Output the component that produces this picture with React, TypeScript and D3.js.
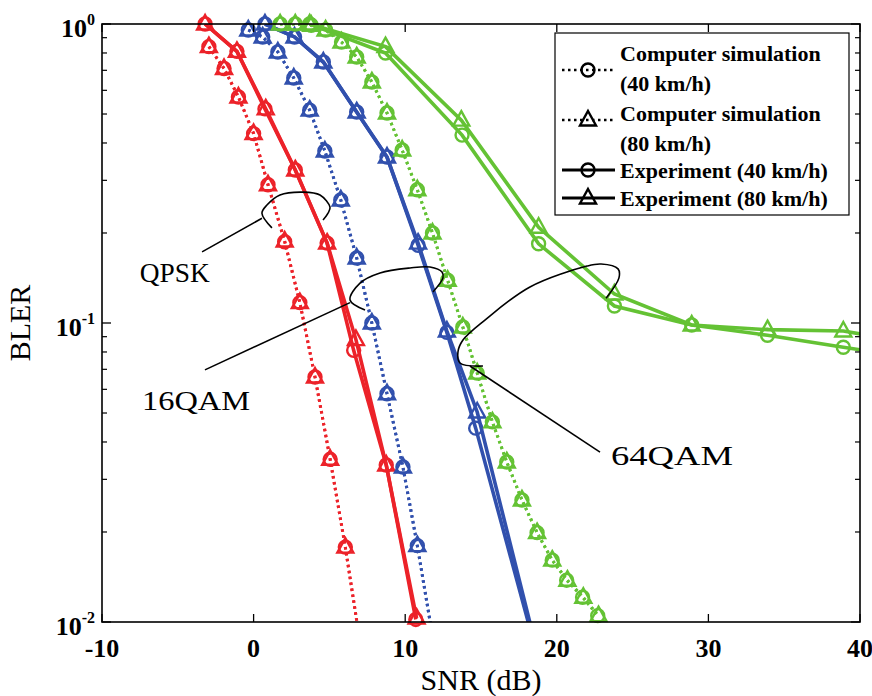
import React, { useEffect, useRef } from 'react';
import * as d3 from 'd3';

// axes
const xTicks = [-10, 0, 10, 20, 30, 40];
const yTicks = [1e-2, 1e-1, 1];
const yTickExp = ['-2', '-1', '0'];

// QPSK (red)
const qpskSim40 = [[-2.95, 0.84], [-1.95, 0.71], [-1.0, 0.57], [0.0, 0.43], [0.95, 0.29], [2.05, 0.187], [3.05, 0.117], [4.05, 0.066], [5.05, 0.035], [6.05, 0.0178], [7.0, 0.0087]];
const qpskSim80 = [[-2.95, 0.84], [-1.95, 0.71], [-1.0, 0.57], [0.0, 0.43], [0.95, 0.29], [2.05, 0.188], [3.05, 0.117], [4.05, 0.066], [5.05, 0.035], [6.05, 0.0178], [7.0, 0.0087]];
const qpskExp40 = [[-3.2, 1.0], [-1.1, 0.81], [0.75, 0.52], [2.75, 0.325], [4.85, 0.185], [6.6, 0.081], [8.75, 0.0335], [10.7, 0.0102]];
const qpskExp80 = [[-3.2, 1.0], [-1.1, 0.81], [0.8, 0.52], [2.75, 0.325], [4.85, 0.185], [6.75, 0.088], [8.75, 0.0335], [10.75, 0.0103]];

// 16QAM (blue)
const qam16Sim40 = [[-0.35, 0.955], [0.6, 0.905], [1.6, 0.806], [2.65, 0.66], [3.7, 0.515], [4.7, 0.376], [5.75, 0.258], [6.8, 0.165], [7.8, 0.1], [8.8, 0.058], [9.85, 0.033], [10.8, 0.018], [11.8, 0.009]];
const qam16Sim80 = [[-0.35, 0.955], [0.6, 0.905], [1.6, 0.806], [2.65, 0.66], [3.7, 0.515], [4.7, 0.376], [5.75, 0.258], [6.8, 0.165], [7.8, 0.1], [8.8, 0.058], [9.85, 0.033], [10.8, 0.018], [11.8, 0.009]];
const qam16Exp40 = [[0.75, 1.0], [2.7, 0.905], [4.6, 0.746], [6.8, 0.508], [8.8, 0.359], [10.85, 0.182], [12.75, 0.093], [14.65, 0.0445], [18.75, 0.0076]];
const qam16Exp80 = [[0.75, 1.0], [2.7, 0.905], [4.6, 0.746], [6.8, 0.508], [8.8, 0.359], [10.85, 0.185], [12.75, 0.094], [14.75, 0.0504], [18.75, 0.0078]];

// 64QAM (green)
const qam64Sim40 = [[1.75, 1.0], [2.75, 1.0], [3.8, 0.99], [4.75, 0.955], [5.8, 0.87], [6.8, 0.776], [7.8, 0.64], [8.8, 0.504], [9.8, 0.379], [10.8, 0.279], [11.8, 0.2], [12.8, 0.139], [13.8, 0.097], [14.75, 0.068], [15.75, 0.0467], [16.7, 0.0343], [17.7, 0.0256], [18.7, 0.0199], [19.7, 0.0161], [20.65, 0.0138], [21.7, 0.0121], [22.7, 0.0105]];
const qam64Sim80 = [[1.75, 1.0], [2.75, 1.0], [3.8, 0.99], [4.75, 0.955], [5.8, 0.87], [6.8, 0.776], [7.8, 0.64], [8.8, 0.504], [9.8, 0.379], [10.8, 0.279], [11.8, 0.2], [12.8, 0.139], [13.8, 0.097], [14.75, 0.068], [15.75, 0.0467], [16.7, 0.0343], [17.7, 0.0256], [18.7, 0.0199], [19.7, 0.0161], [20.7, 0.0138], [21.75, 0.0121], [22.75, 0.0105]];
const qam64Exp40 = [[3.7, 1.0], [8.7, 0.8], [13.75, 0.425], [18.8, 0.184], [23.8, 0.114], [28.9, 0.0985], [33.9, 0.091], [38.9, 0.083], [43.9, 0.076]];
const qam64Exp80 = [[3.7, 1.0], [8.7, 0.84], [13.7, 0.477], [18.8, 0.209], [23.8, 0.125], [28.9, 0.0985], [33.9, 0.095], [38.9, 0.094], [43.9, 0.085]];

// annotations (data coordinates)
const qpskArc = [[1.21, 0.208], [0.55, 0.233], [0.88, 0.248], [1.74, 0.268], [3.26, 0.274], [4.38, 0.268], [5.04, 0.244], [4.91, 0.233], [4.58, 0.221]];
const qpskLeader = [[0.55, 0.224], [-3.4, 0.173]];
const qam16Arc = [[7.35, 0.1105], [6.36, 0.1194], [7.02, 0.136], [8.34, 0.147], [10.32, 0.1528], [11.64, 0.1539], [12.43, 0.148], [12.49, 0.1415], [11.83, 0.127]];
const qam16Leader = [[6.36, 0.117], [-3.21, 0.0697]];
const qam64Arc = [[15.13, 0.0718], [13.61, 0.0735], [13.48, 0.08], [13.81, 0.0877], [15.26, 0.1023], [18.23, 0.132], [21.99, 0.155], [22.92, 0.1575], [24.04, 0.1517], [24.1, 0.1415], [23.25, 0.121]];
const qam64Leader = [[14.27, 0.0718], [22.85, 0.037]];
const labels = [
  { text: 'QPSK', snr: -5.2, bler: 0.148, len: 70 },
  { text: '16QAM', snr: -3.8, bler: 0.0553, len: 108 },
  { text: '64QAM', snr: 27.6, bler: 0.0362, len: 122 },
];

const RED = '#ec2229';
const BLUE = '#3150ad';
const GREEN = '#64c234';

const series = [
  { data: qpskSim40, color: RED, dotted: true, marker: 'circle' },
  { data: qpskSim80, color: RED, dotted: true, marker: 'triangle' },
  { data: qpskExp40, color: RED, dotted: false, marker: 'circle' },
  { data: qpskExp80, color: RED, dotted: false, marker: 'triangle' },
  { data: qam16Sim40, color: BLUE, dotted: true, marker: 'circle' },
  { data: qam16Sim80, color: BLUE, dotted: true, marker: 'triangle' },
  { data: qam16Exp40, color: BLUE, dotted: false, marker: 'circle' },
  { data: qam16Exp80, color: BLUE, dotted: false, marker: 'triangle' },
  { data: qam64Sim40, color: GREEN, dotted: true, marker: 'circle' },
  { data: qam64Sim80, color: GREEN, dotted: true, marker: 'triangle' },
  { data: qam64Exp40, color: GREEN, dotted: false, marker: 'circle' },
  { data: qam64Exp80, color: GREEN, dotted: false, marker: 'triangle' },
];

const legendItems = [
  { lines: ['Computer simulation', '(40 km/h)'], dotted: true, marker: 'circle' },
  { lines: ['Computer simulation', '(80 km/h)'], dotted: true, marker: 'triangle' },
  { lines: ['Experiment (40 km/h)'], dotted: false, marker: 'circle' },
  { lines: ['Experiment (80 km/h)'], dotted: false, marker: 'triangle' },
];

const FONT = '"Liberation Serif", "Times New Roman", serif';
const W = 872;
const H = 696;

const trianglePath = 'M0,-9L8,5.5L-8,5.5Z';

const drawMarker = (g, type, color, x, y) => {
  if (type === 'circle') {
    g.append('circle').attr('cx', x).attr('cy', y).attr('r', 6.5)
      .attr('fill', 'none').attr('stroke', color).attr('stroke-width', 2.4);
  } else {
    g.append('path').attr('d', trianglePath).attr('transform', `translate(${x},${y})`)
      .attr('fill', 'none').attr('stroke', color).attr('stroke-width', 2.4)
      .attr('stroke-linejoin', 'miter');
  }
};

const BlerChart = () => {
  const svgRef = useRef(null);

  useEffect(() => {
    const svg = d3.select(svgRef.current);
    svg.selectAll('*').remove();

    const margin = { top: 24, right: 12, bottom: 74, left: 102 };
    const x0 = margin.left, x1 = W - margin.right;
    const y0 = H - margin.bottom, y1 = margin.top;

    const x = d3.scaleLinear().domain([-10, 40]).range([x0, x1]);
    const y = d3.scaleLog().domain([1e-2, 1]).range([y0, y1]);

    svg.append('rect').attr('width', W).attr('height', H).attr('fill', '#fff');

    svg.append('defs').append('clipPath').attr('id', 'plotClip')
      .append('rect').attr('x', x0).attr('y', y1).attr('width', x1 - x0).attr('height', y0 - y1);

    const line = d3.line().x(d => x(d[0])).y(d => y(d[1]));

    // curves
    const plot = svg.append('g');
    const lines = plot.append('g').attr('clip-path', 'url(#plotClip)');
    series.forEach(s => {
      lines.append('path')
        .attr('d', line(s.data))
        .attr('fill', 'none')
        .attr('stroke', s.color)
        .attr('stroke-width', s.dotted ? 3 : 3.6)
        .attr('stroke-dasharray', s.dotted ? '2.5 3.5' : null);
    });
    const markers = plot.append('g');
    series.forEach(s => {
      s.data
        .filter(d => d[0] >= -10 && d[0] <= 40 && d[1] >= 1e-2 && d[1] <= 1)
        .forEach(d => drawMarker(markers, s.marker, s.color, x(d[0]), y(d[1])));
    });

    // annotations
    const curve = d3.line().x(d => x(d[0])).y(d => y(d[1])).curve(d3.curveCatmullRom.alpha(0.5));
    const ann = svg.append('g').attr('fill', 'none').attr('stroke', '#000').attr('stroke-width', 1.6);
    [qpskArc, qam16Arc, qam64Arc].forEach(a => ann.append('path').attr('d', curve(a)));
    [qpskLeader, qam16Leader, qam64Leader].forEach(a => ann.append('path').attr('d', line(a)));
    svg.append('g').selectAll('text').data(labels).join('text')
      .attr('x', d => x(d.snr)).attr('y', d => y(d.bler))
      .attr('dy', '0.35em')
      .attr('text-anchor', 'middle')
      .attr('font-family', FONT).attr('font-size', 28)
      .attr('textLength', d => d.len).attr('lengthAdjust', 'spacingAndGlyphs')
      .text(d => d.text);

    // axes box + ticks
    const axes = svg.append('g').attr('stroke', '#000').attr('fill', 'none');
    axes.append('rect').attr('x', x0).attr('y', y1).attr('width', x1 - x0).attr('height', y0 - y1)
      .attr('stroke-width', 1.6);
    xTicks.forEach(t => {
      axes.append('line').attr('x1', x(t)).attr('x2', x(t)).attr('y1', y0).attr('y2', y0 - 8).attr('stroke-width', 1.3);
      axes.append('line').attr('x1', x(t)).attr('x2', x(t)).attr('y1', y1).attr('y2', y1 + 8).attr('stroke-width', 1.3);
    });
    const minor = [];
    [1e-2, 1e-1].forEach(dec => { for (let k = 2; k <= 9; k++) minor.push(dec * k); });
    minor.forEach(t => {
      axes.append('line').attr('x1', x0).attr('x2', x0 + 5).attr('y1', y(t)).attr('y2', y(t)).attr('stroke-width', 1.2);
      axes.append('line').attr('x1', x1).attr('x2', x1 - 5).attr('y1', y(t)).attr('y2', y(t)).attr('stroke-width', 1.2);
    });
    yTicks.forEach(t => {
      axes.append('line').attr('x1', x0).attr('x2', x0 + 9).attr('y1', y(t)).attr('y2', y(t)).attr('stroke-width', 1.3);
      axes.append('line').attr('x1', x1).attr('x2', x1 - 9).attr('y1', y(t)).attr('y2', y(t)).attr('stroke-width', 1.3);
    });

    // tick labels
    svg.append('g').selectAll('text').data(xTicks).join('text')
      .attr('x', d => x(d)).attr('y', y0 + 35)
      .attr('text-anchor', 'middle')
      .attr('font-family', FONT).attr('font-size', 26).attr('font-weight', 'bold')
      .text(d => d);
    const yl = svg.append('g').attr('font-family', FONT).attr('font-weight', 'bold');
    yTicks.forEach((t, i) => {
      const txt = yl.append('text').attr('x', x0 - 7).attr('y', y(t) + 13).attr('text-anchor', 'end');
      txt.append('tspan').attr('font-size', 26).text('10');
      txt.append('tspan').attr('font-size', 16).attr('dy', -12).text(yTickExp[i]);
    });

    // axis titles
    svg.append('text').attr('x', (x0 + x1) / 2).attr('y', H - 6)
      .attr('text-anchor', 'middle').attr('font-family', FONT).attr('font-size', 30)
      .text('SNR (dB)');
    svg.append('text').attr('transform', `translate(30,${(y0 + y1) / 2}) rotate(-90)`)
      .attr('text-anchor', 'middle').attr('font-family', FONT).attr('font-size', 30)
      .text('BLER');

    // legend
    const lg = svg.append('g');
    lg.append('rect').attr('x', 555).attr('y', 33).attr('width', 294).attr('height', 182)
      .attr('fill', '#fff').attr('stroke', '#000').attr('stroke-width', 1.2);
    const rowY = [[70, 53, 83], [120, 113, 143], [170, 170], [198, 198]];
    legendItems.forEach((it, i) => {
      const my = rowY[i][0];
      lg.append('line').attr('x1', 562).attr('x2', 615).attr('y1', my).attr('y2', my)
        .attr('stroke', '#000').attr('stroke-width', it.dotted ? 2.6 : 3)
        .attr('stroke-dasharray', it.dotted ? '2.5 3.5' : null);
      drawMarker(lg, it.marker, '#000', 588, my);
      it.lines.forEach((l, j) => {
        lg.append('text').attr('x', 620).attr('y', rowY[i][j + 1]).attr('dy', '0.35em')
          .attr('font-family', FONT).attr('font-size', 22).attr('font-weight', 'bold')
          .text(l);
      });
    });
  }, []);

  return <svg ref={svgRef} width={W} height={H} style={{ display: 'block' }} />;
};

export default function App() {
  return (
    <div style={{ position: 'absolute', left: 0, top: 0 }}>
      <BlerChart />
    </div>
  );
}
